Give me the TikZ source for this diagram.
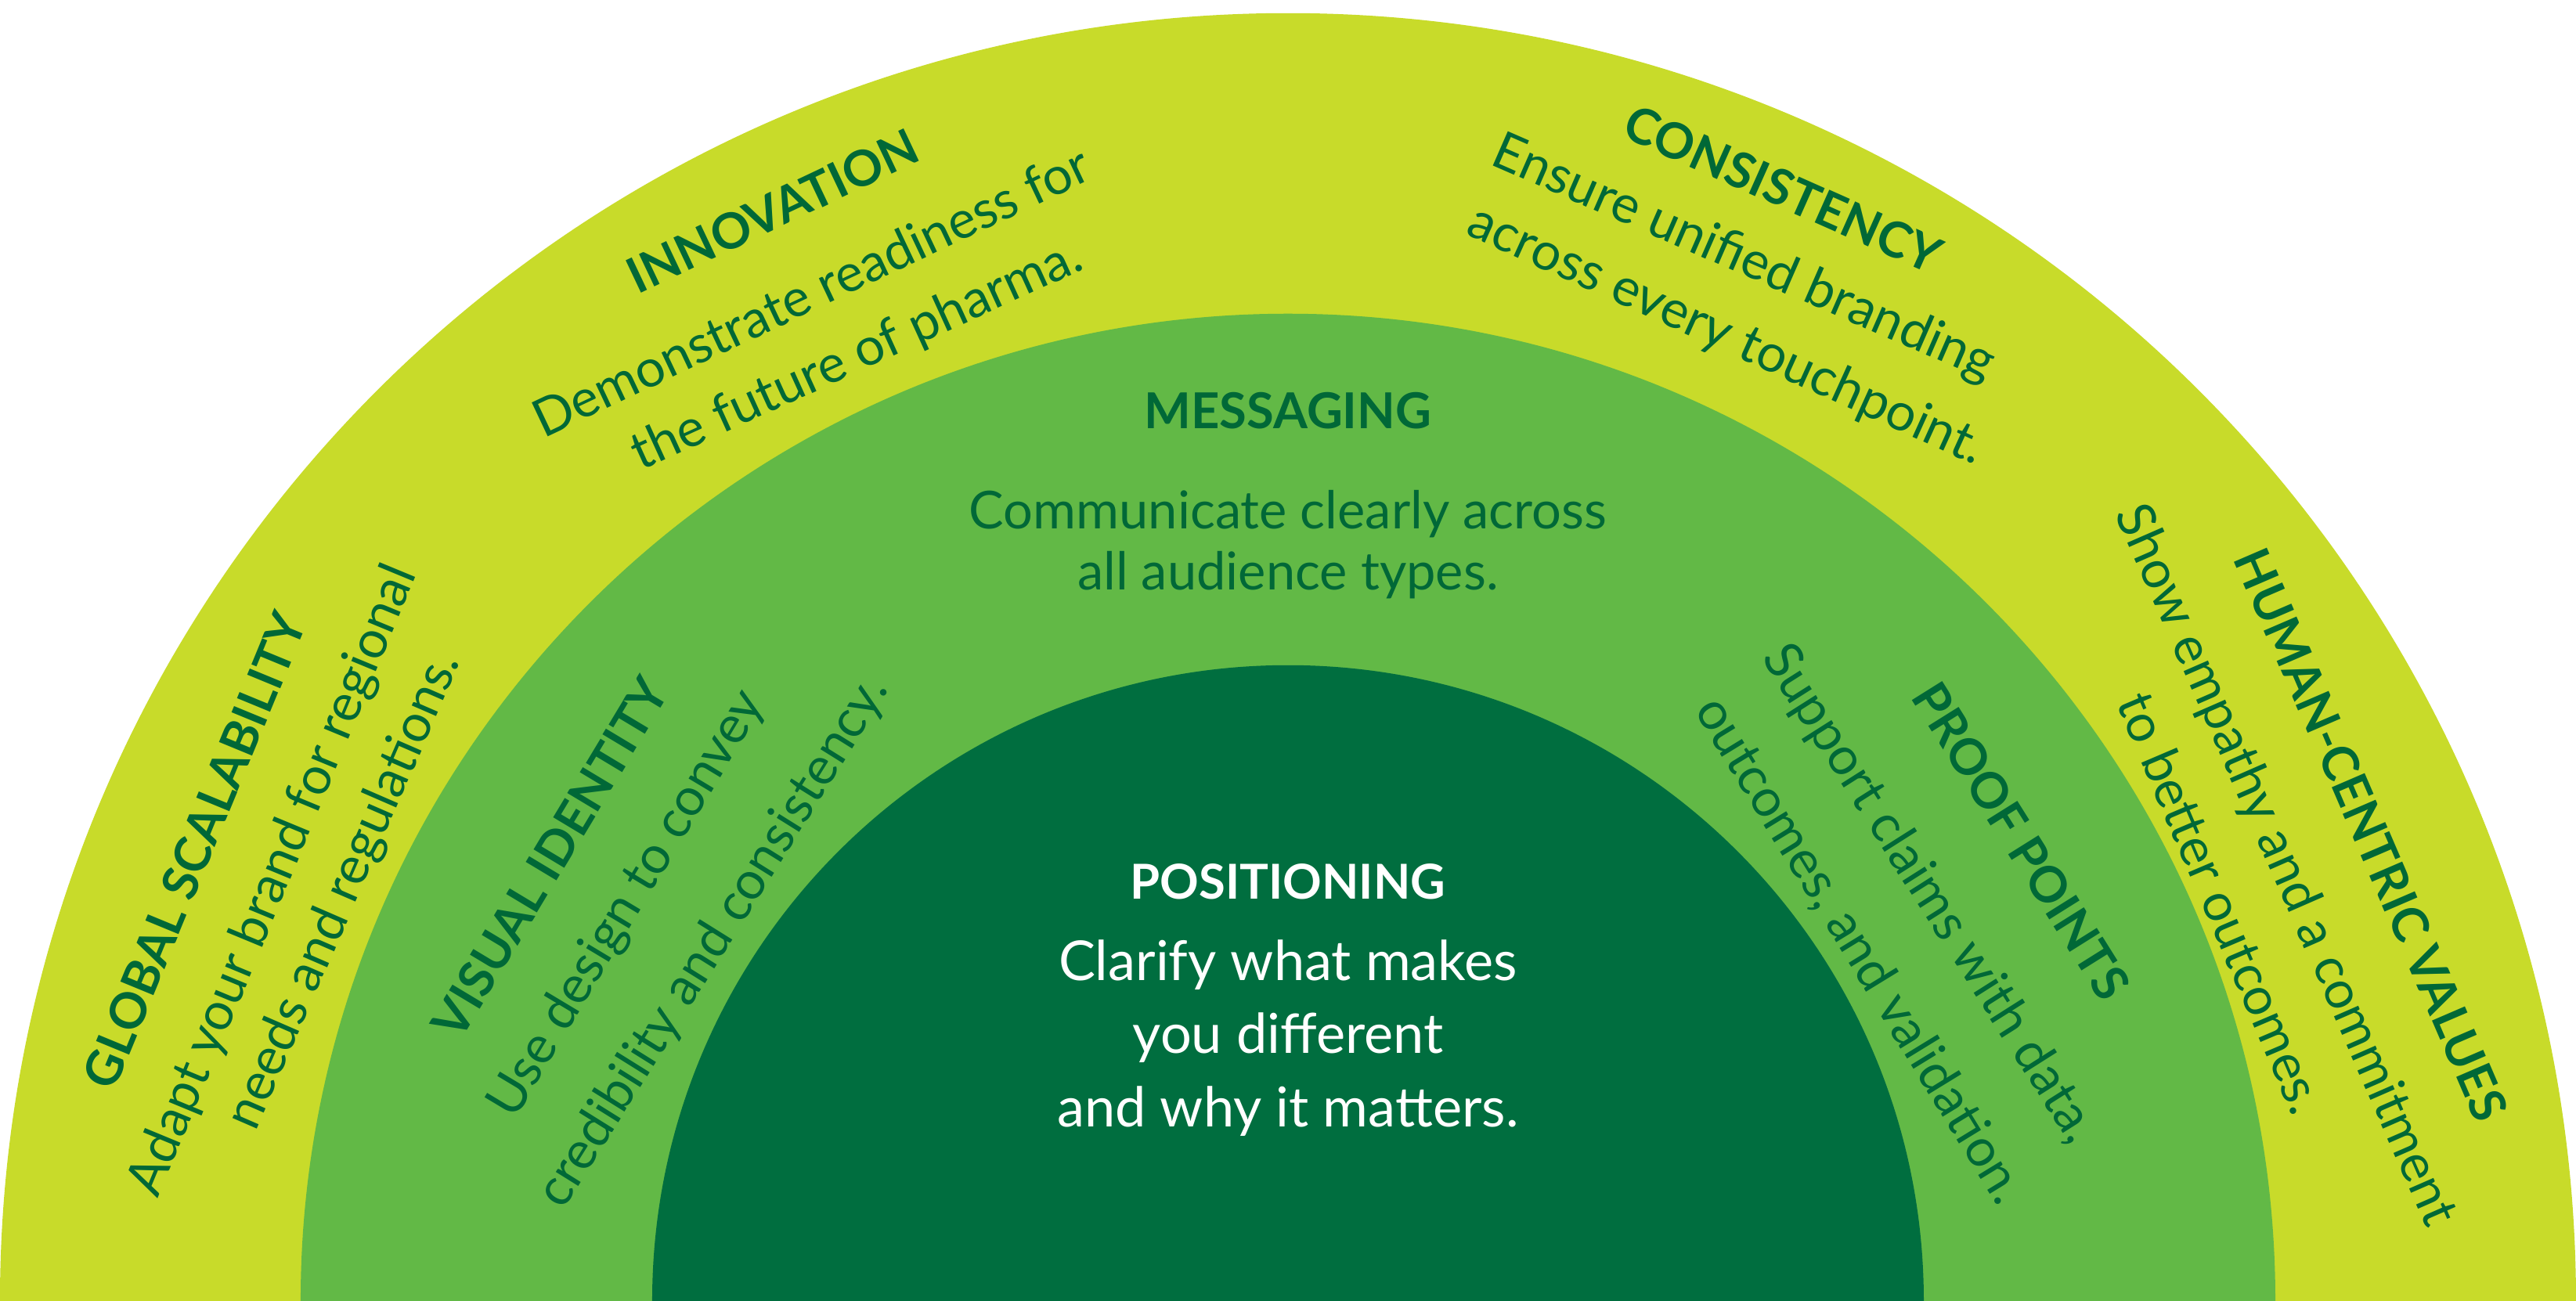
\documentclass[tikz,border=0pt]{standalone}
\usepackage{fontspec}
\setmainfont{Lato}
\definecolor{outer}{HTML}{C8DB2A}
\definecolor{mid}{HTML}{62B946}
\definecolor{inner}{HTML}{006E3F}
\definecolor{txt}{HTML}{006837}
\begin{document}
\begin{tikzpicture}[x=0.020982cm,y=0.020982cm,
  hd/.style={text=txt,font=\fontsize{18}{20}\selectfont\bfseries,inner sep=0pt},
  bd/.style={text=txt,font=\fontsize{19}{22}\selectfont,inner sep=0pt}]
\useasboundingbox (-784,0) rectangle (784,792);
\fill[outer] (-784,0) arc[start angle=180,end angle=0,radius=784] -- cycle;
\fill[mid] (-601,0) arc[start angle=180,end angle=0,radius=601] -- cycle;
\fill[inner] (-387,0) arc[start angle=180,end angle=0,radius=387] -- cycle;
% center
\node[text=white,font=\fontsize{17.5}{20}\selectfont\bfseries,inner sep=0pt] (posh) at (0,255) {POSITIONING};
\node[text=white,font=\fontsize{20}{26.5}\selectfont,align=center,inner sep=0pt] (posb) at (0,160) {Clarify what makes\\you different\\and why it matters.};
% innovation
\node[hd,rotate=25.3] (innh) at (115.3:734) {INNOVATION};
\node[bd,rotate=25.3] (innb1) at (115.3:680) {Demonstrate readiness for};
\node[bd,rotate=24.5] (innb2) at (114.5:632) {the future of pharma.};
% consistency
\node[hd,rotate=-24] (conh) at (66:741) {CONSISTENCY};
\node[bd,rotate=-23.6] (conb1) at (66.4:692) {Ensure unified branding};
\node[bd,rotate=-24.4] (conb2) at (65.6:645) {across every touchpoint.};
% messaging
\node[hd] (mesh) at (90:542) {MESSAGING};
\node[bd] (mesb1) at (90:479) {Communicate clearly across};
\node[bd] (mesb2) at (90:442) {all audience types.};
% global
\node[hd,rotate=67.6] (gloh) at (157.6:720) {GLOBAL SCALABILITY};
\node[bd,rotate=67.5] (glob1) at (157.5:668) {Adapt your brand for regional};
\node[bd,rotate=66.5] (glob2) at (156.5:626) {needs and regulations.};
% visual
\node[hd,rotate=59] (vish) at (149:524) {VISUAL IDENTITY};
\node[bd,rotate=59] (visb1) at (149:469) {Use design to convey};
\node[bd,rotate=58] (visb2) at (148:412) {credibility and consistency.};
% proof
\node[hd,rotate=-57.9] (proh) at (32.1:527) {PROOF POINTS};
\node[bd,rotate=-57.6] (prob1) at (32.4:462) {Support claims with data,};
\node[bd,rotate=-58.5] (prob2) at (31.5:408) {outcomes, and validation.};
% human
\node[hd,rotate=-66.7] (humh) at (23.3:718) {HUMAN-CENTRIC VALUES};
\node[bd,rotate=-66.4] (humb1) at (23.6:662) {Show empathy and a commitment};
\node[bd,rotate=-66.9] (humb2) at (23.1:618) {to better outcomes.};
\end{tikzpicture}
\end{document}
